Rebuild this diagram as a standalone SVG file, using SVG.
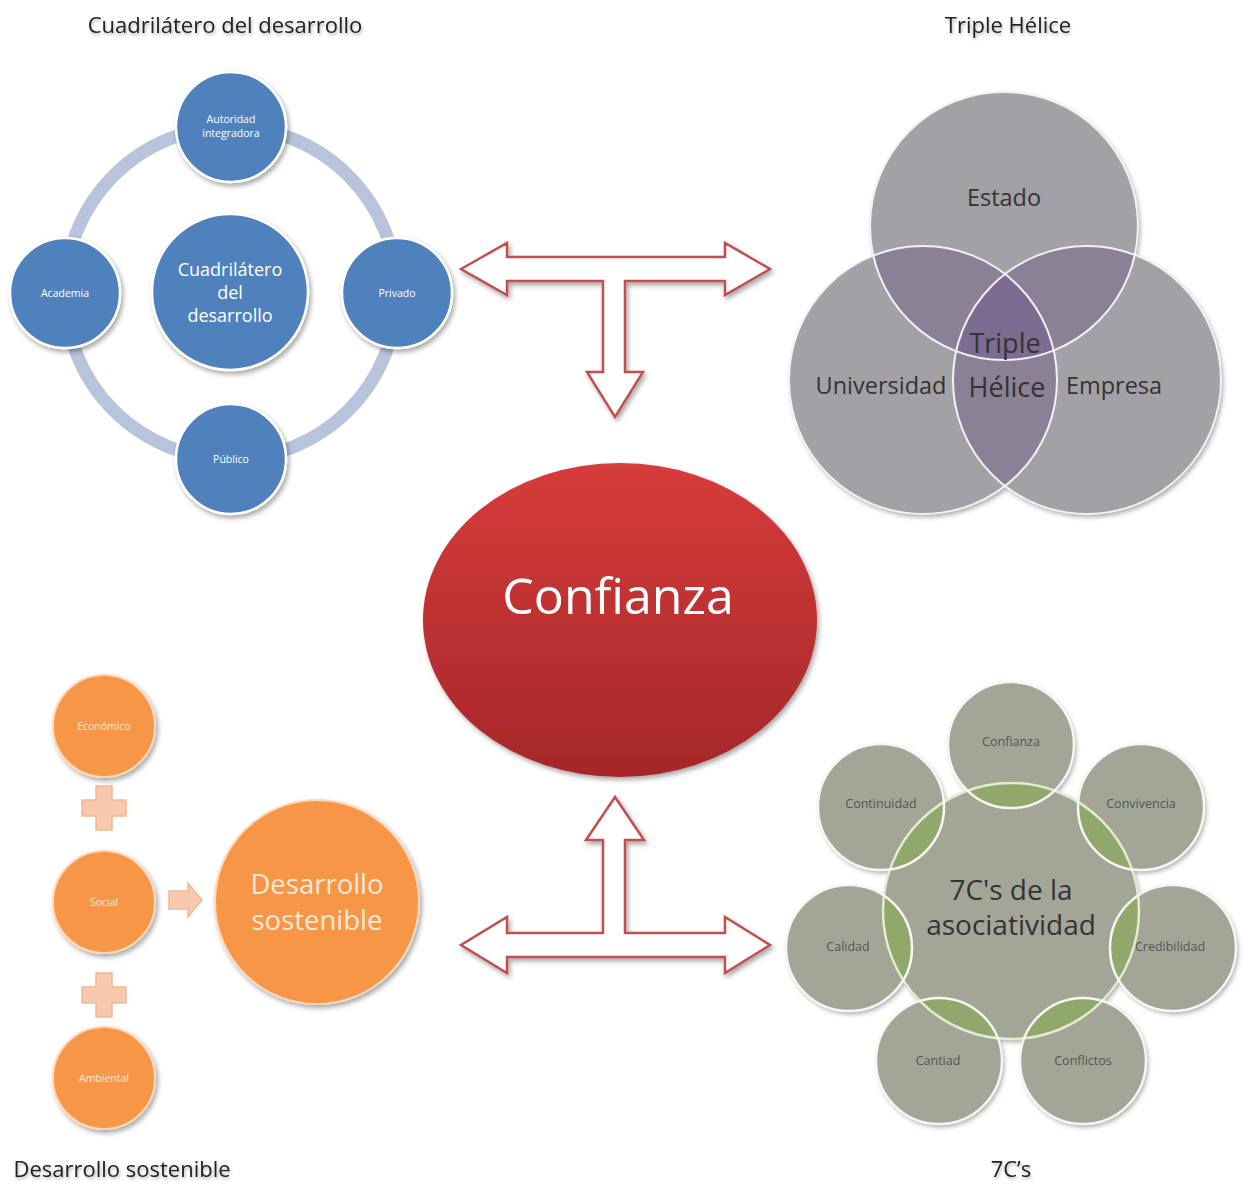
<svg xmlns="http://www.w3.org/2000/svg" width="1244" height="1184" viewBox="0 0 1244 1184">
<defs>
  <style>
    .ttl{font-family:"Open Sans","Liberation Sans",sans-serif;font-size:22px;fill:#222;text-anchor:middle;filter:url(#tshadow)}
    .blue{fill:#4f81bd;stroke:#ffffff;stroke-width:2.5;filter:url(#shadow)}
    .bt{font-family:"Open Sans","Liberation Sans",sans-serif;fill:#ffffff;text-anchor:middle}
    .orange{fill:#f79646;stroke:#fbd9bd;stroke-width:2;filter:url(#shadow)}
    .ot{font-family:"Open Sans","Liberation Sans",sans-serif;fill:#fde9d9;text-anchor:middle}
    .gt{font-family:"Open Sans","Liberation Sans",sans-serif;fill:#333;text-anchor:middle}
    .st{font-family:"Open Sans","Liberation Sans",sans-serif;fill:#555;text-anchor:middle;font-size:12.5px}
    .arrow{fill:#ffffff;stroke:#c0504d;stroke-width:2.5;stroke-linejoin:miter;filter:url(#shadow)}
    .peach{fill:#f9c9ae;stroke:#f2b695;stroke-width:1.5}
  </style>
  <filter id="shadow" x="-20%" y="-20%" width="140%" height="140%">
    <feDropShadow dx="2" dy="3" stdDeviation="2.5" flood-color="#000" flood-opacity="0.35"/>
  </filter>
  <filter id="tshadow" x="-10%" y="-30%" width="120%" height="160%">
    <feDropShadow dx="1" dy="2" stdDeviation="1.5" flood-color="#000" flood-opacity="0.3"/>
  </filter>
  <linearGradient id="red" x1="0" y1="0" x2="0" y2="1">
    <stop offset="0" stop-color="#d63c3a"/>
    <stop offset="1" stop-color="#a5272a"/>
  </linearGradient>
  <clipPath id="cE"><circle cx="1004" cy="226" r="134"/></clipPath>
  <clipPath id="cU"><circle cx="923" cy="380" r="134"/></clipPath>
  <clipPath id="cM"><circle cx="1087" cy="380" r="134"/></clipPath>
  <clipPath id="c7"><circle cx="1011" cy="911" r="128"/></clipPath>
</defs>
<rect width="1244" height="1184" fill="#ffffff"/>

<!-- Titles -->
<text class="ttl" x="225" y="33">Cuadrilátero del desarrollo</text>
<text class="ttl" x="1008" y="33">Triple Hélice</text>
<text class="ttl" x="122" y="1177">Desarrollo sostenible</text>
<text class="ttl" x="1011" y="1177">7C’s</text>

<!-- Connectors -->
<g id="connectors">
  <path class="arrow" d="M461,269 L507,243 L507,257 L725,257 L725,243 L770,269 L725,295 L725,281 L625,281 L625,372 L643,372 L615,417 L587,372 L603,372 L603,281 L507,281 L507,295 Z"/>
  <path class="arrow" d="M615,797 L644,840 L625,840 L625,933 L725,933 L725,917 L770,945 L725,973 L725,957 L507,957 L507,973 L461,945 L507,917 L507,933 L603,933 L603,840 L586,840 Z"/>
</g>

<!-- Cuadrilátero -->
<g id="cuadrilatero">
  <circle cx="231" cy="293" r="166" fill="none" stroke="#b7c4dc" stroke-width="13"/>
  <g id="n-centro"><circle class="blue" cx="230" cy="292" r="78"/>
    <text class="bt" x="230" y="276" font-size="18">Cuadrilátero</text>
    <text class="bt" x="230" y="299" font-size="18">del</text>
    <text class="bt" x="230" y="322" font-size="18">desarrollo</text></g>
  <g id="n-autoridad"><circle class="blue" cx="231" cy="127" r="55"/>
    <text class="bt" x="231" y="123" font-size="10.5">Autoridad</text>
    <text class="bt" x="231" y="137" font-size="10.5">integradora</text></g>
  <g id="n-academia"><circle class="blue" cx="65" cy="293" r="55"/>
    <text class="bt" x="65" y="297" font-size="10.5">Academia</text></g>
  <g id="n-privado"><circle class="blue" cx="397" cy="293" r="55"/>
    <text class="bt" x="397" y="297" font-size="10.5">Privado</text></g>
  <g id="n-publico"><circle class="blue" cx="231" cy="459" r="55"/>
    <text class="bt" x="231" y="463" font-size="10.5">Público</text></g>
</g>

<!-- Triple Hélice -->
<g id="triple-helice">
  <g filter="url(#shadow)">
    <circle cx="1004" cy="226" r="134" fill="#a3a1a6"/>
    <circle cx="923" cy="380" r="134" fill="#a3a1a6"/>
    <circle cx="1087" cy="380" r="134" fill="#a3a1a6"/>
  </g>
  <circle cx="923" cy="380" r="134" fill="#8a8196" clip-path="url(#cE)"/>
  <circle cx="1087" cy="380" r="134" fill="#8a8196" clip-path="url(#cE)"/>
  <circle cx="1087" cy="380" r="134" fill="#8a8196" clip-path="url(#cU)"/>
  <g clip-path="url(#cE)"><circle cx="1087" cy="380" r="134" fill="#7d6b91" clip-path="url(#cU)"/></g>
  <g fill="none" stroke="#f2f1f4" stroke-width="2">
    <circle cx="1004" cy="226" r="134"/>
    <circle cx="923" cy="380" r="134"/>
    <circle cx="1087" cy="380" r="134"/>
  </g>
  <text class="gt" x="1004" y="206" font-size="23.5">Estado</text>
  <text class="gt" x="881" y="394" font-size="23.5">Universidad</text>
  <text class="gt" x="1114" y="394" font-size="23.5">Empresa</text>
  <text class="gt" x="1005" y="353" font-size="27" fill="#2e2a35">Triple</text>
  <text class="gt" x="1007" y="397" font-size="27" fill="#2e2a35">Hélice</text>
</g>

<!-- Confianza -->
<g id="confianza">
  <ellipse cx="620" cy="620" rx="197" ry="157" fill="url(#red)" filter="url(#shadow)"/>
  <text x="618" y="614" font-family="Open Sans, Liberation Sans, sans-serif" font-size="50" fill="#ffffff" text-anchor="middle">Confianza</text>
</g>

<!-- Desarrollo sostenible -->
<g id="desarrollo-sostenible">
  <g id="n-economico"><circle class="orange" cx="104" cy="726" r="51"/>
    <text class="ot" x="104" y="730" font-size="10.5">Económico</text></g>
  <path class="peach" d="M96,786 H112 V800 H126 V816 H112 V830 H96 V816 H82 V800 H96 Z"/>
  <g id="n-social"><circle class="orange" cx="104" cy="902" r="51"/>
    <text class="ot" x="104" y="906" font-size="10.5">Social</text></g>
  <path class="peach" d="M96,973 H112 V987 H126 V1003 H112 V1017 H96 V1003 H82 V987 H96 Z"/>
  <g id="n-ambiental"><circle class="orange" cx="104" cy="1078" r="51"/>
    <text class="ot" x="104" y="1082" font-size="10.5">Ambiental</text></g>
  <path class="peach" d="M169,891 H188 V883 L202,900 L188,917 V909 H169 Z"/>
  <g id="n-desarrollo"><circle class="orange" cx="317" cy="902" r="102"/>
    <text class="ot" x="317" y="894" font-size="27.5">Desarrollo</text>
    <text class="ot" x="317" y="930" font-size="27.5">sostenible</text></g>
</g>

<!-- 7C's -->
<g id="siete-c">
  <g filter="url(#shadow)">
    <circle cx="1011" cy="911" r="128" fill="#a3a597"/>
    <circle cx="1011" cy="745" r="63" fill="#a3a597"/>
    <circle cx="1141" cy="807" r="63" fill="#a3a597"/>
    <circle cx="1173" cy="948" r="63" fill="#a3a597"/>
    <circle cx="1083" cy="1061" r="63" fill="#a3a597"/>
    <circle cx="939" cy="1061" r="63" fill="#a3a597"/>
    <circle cx="849" cy="948" r="63" fill="#a3a597"/>
    <circle cx="881" cy="807" r="63" fill="#a3a597"/>
  </g>
  <g clip-path="url(#c7)" fill="#91a86c">
    <circle cx="1011" cy="745" r="63"/>
    <circle cx="1141" cy="807" r="63"/>
    <circle cx="1173" cy="948" r="63"/>
    <circle cx="1083" cy="1061" r="63"/>
    <circle cx="939" cy="1061" r="63"/>
    <circle cx="849" cy="948" r="63"/>
    <circle cx="881" cy="807" r="63"/>
  </g>
  <circle cx="1011" cy="911" r="128" fill="none" stroke="#e2ecce" stroke-width="2.5"/>
  <g fill="none" stroke="#f6f6f2" stroke-width="2.5">
    <circle cx="1011" cy="745" r="63"/>
    <circle cx="1141" cy="807" r="63"/>
    <circle cx="1173" cy="948" r="63"/>
    <circle cx="1083" cy="1061" r="63"/>
    <circle cx="939" cy="1061" r="63"/>
    <circle cx="849" cy="948" r="63"/>
    <circle cx="881" cy="807" r="63"/>
  </g>
  <text class="gt" x="1011" y="900" font-size="28">7C's de la</text>
  <text class="gt" x="1011" y="935" font-size="28">asociatividad</text>
  <text class="st" x="1011" y="746">Confianza</text>
  <text class="st" x="1141" y="808">Convivencia</text>
  <text class="st" x="1170" y="951">Credibilidad</text>
  <text class="st" x="1083" y="1065">Conflictos</text>
  <text class="st" x="938" y="1065">Cantiad</text>
  <text class="st" x="848" y="951">Calidad</text>
  <text class="st" x="881" y="808">Continuidad</text>
</g>
</svg>
